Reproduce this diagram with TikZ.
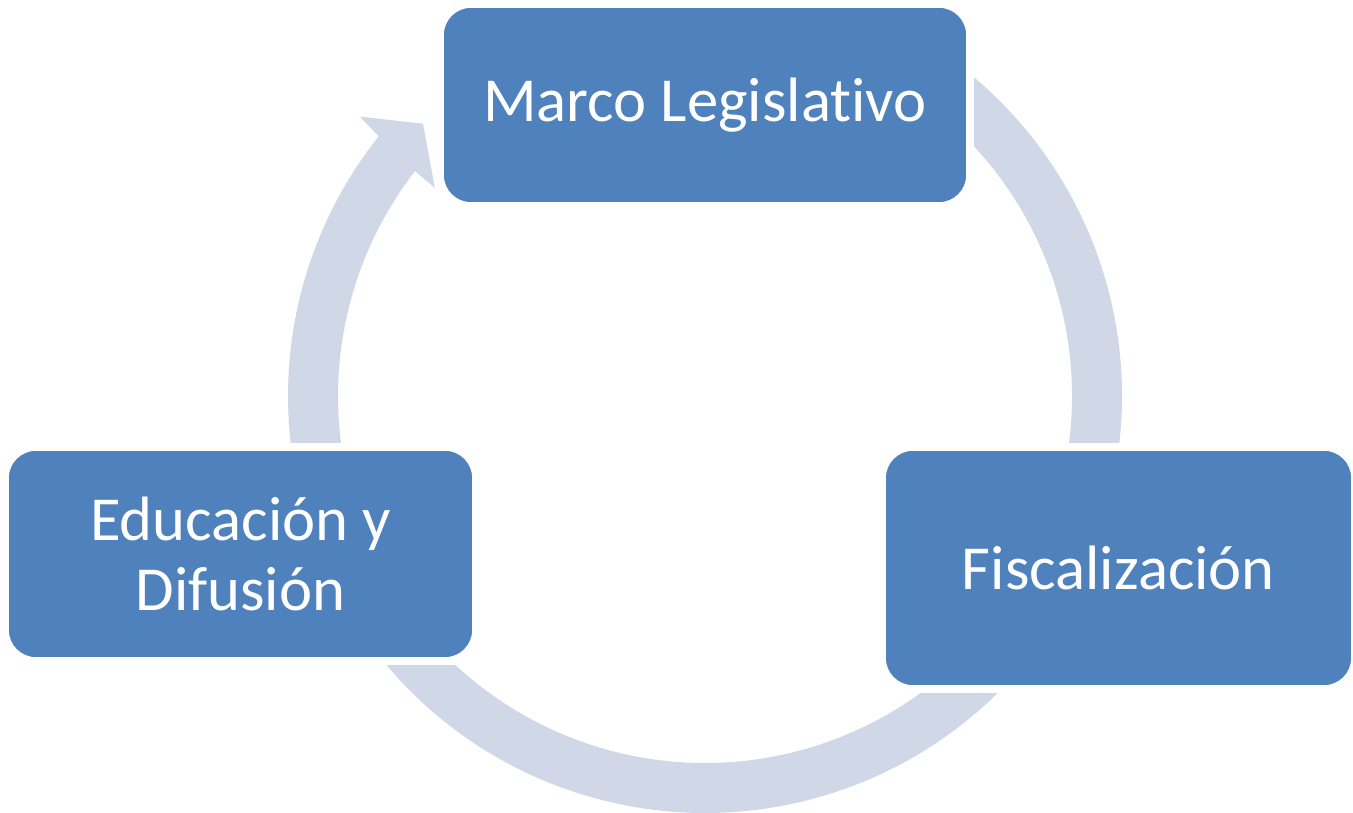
\documentclass[tikz,border=0pt]{standalone}
\usepackage{fontspec}
\setmainfont{Carlito}[Ligatures=NoCommon]
\usetikzlibrary{calc,backgrounds}
\definecolor{boxblue}{HTML}{4F81BD}
\definecolor{ringgray}{HTML}{D0D8E8}

\begin{document}
\begin{tikzpicture}[x=0.75pt, y=0.75pt,
		stage/.style={fill=boxblue, draw=white, line width=1.2pt, rounded corners=21pt, text=white, align=center, inner sep=0pt, font=\fontsize{47}{52.5}\selectfont},
		ring/.style={draw=ringgray, line width=37.5pt},
		gap/.style={fill=white}]
			%%%%% BOXES %%%%%
			\useasboundingbox (0,0) rectangle (1353,813);
			\coordinate (c) at (705,417);
			
			\node[stage, minimum width=393pt, minimum height=147pt] (marco) at (705,708) {Marco Legislativo};
			\node[stage, minimum width=350.25pt, minimum height=177pt] (fisca) at (1118.5,245) {Fiscalización};
			\node[stage, minimum width=348.75pt, minimum height=156pt] (educa) at (240.5,259) {Educación y\\Difusión};
			
			%%%%% CYCLE %%%%%
			\begin{pgfonlayer}{background}
				\draw[ring] ($(c)+(55:392)$) arc (55:-15:392);
				\draw[ring] ($(c)+(-40:392)$) arc (-40:-150:392);
				\fill[ringgray] ($(c)+(190:417)$) arc (190:141.5:417) -- ($(c)+(141:444)$) -- ($(c)+(136:392)$) -- ($(c)+(142.4:341)$) -- ($(c)+(142.2:367)$) arc (142.2:190:367) -- cycle;
				
				% gaps round the boxes
				\fill[gap] ($(marco.south west)+(-6,-6)$) rectangle ($(marco.north east)+(6,6)$);
				\fill[gap] ($(fisca.south west)+(-6,-6)$) rectangle ($(fisca.north east)+(6,6)$);
				\fill[gap] ($(educa.south west)+(-6,-6)$) rectangle ($(educa.north east)+(6,6)$);
			\end{pgfonlayer}
\end{tikzpicture}
\end{document}
